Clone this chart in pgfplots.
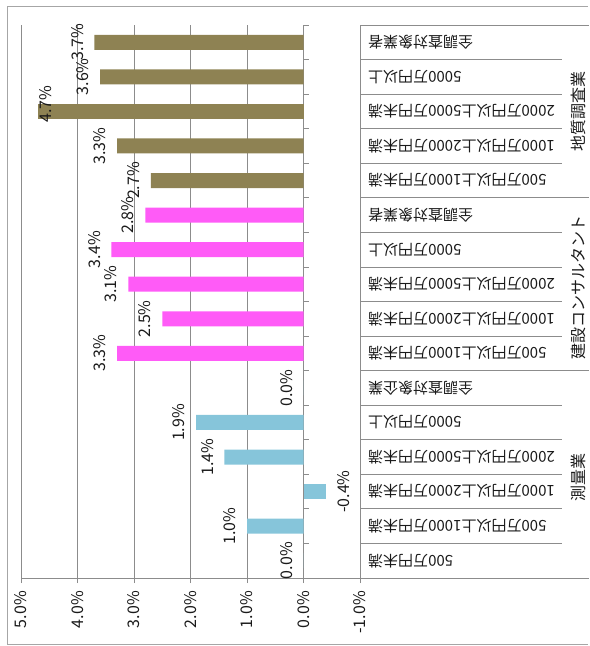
\documentclass[border=0pt]{standalone}
\usepackage{pgfplots}
\pgfplotsset{compat=1.18}
\usepackage{fontspec}
\setmainfont{Noto Sans CJK JP}
\definecolor{gold}{HTML}{8E8253}
\definecolor{pinkbar}{HTML}{FF5BF7}
\definecolor{bluebar}{HTML}{86C5DA}
\definecolor{gridgray}{HTML}{8C8C8C}
\definecolor{framegray}{HTML}{A6A6A6}
\definecolor{txt}{HTML}{1A1A1A}
\begin{document}
\begin{tikzpicture}
\begin{axis}[
  scale only axis, width=339bp, height=553bp,
  xbar, bar shift=0pt, bar width=15bp,
  x dir=reverse,
  xmin=-1, xmax=5, ymin=-0.5, ymax=15.5,
  clip=false,
  axis line style={draw=none},
  /pgf/number format/assume math mode=true,
  xtick={-1,0,1,2,3,4,5},
  xticklabel={\pgfmathprintnumber[fixed,fixed zerofill,precision=1]{\tick}\%},
  xticklabel style={rotate=90, anchor=east, font=\fontsize{16bp}{18bp}\selectfont, text=txt, inner xsep=8bp},
  tick align=outside, xtick pos=left, major tick length=5bp,
  xtick style={gridgray, line width=0.8pt},
  xmajorgrids, grid style={gridgray, line width=0.8pt},
  ytick={0,1,...,15},
  yticklabels={500万円未満, 500万円以上1000万円未満, 1000万円以上2000万円未満, 2000万円以上5000万円未満, 5000万円以上, 全調査対象企業,
    500万円以上1000万円未満, 1000万円以上2000万円未満, 2000万円以上5000万円未満, 5000万円以上, 全調査対象業者,
    500万円以上1000万円未満, 1000万円以上2000万円未満, 2000万円以上5000万円未満, 5000万円以上, 全調査対象業者},
  yticklabel pos=right,
  ytick style={draw=none},
  yticklabel style={rotate=180, anchor=east, font=\fontsize{15bp}{17bp}\selectfont, text=txt, inner xsep=3bp},
  point meta=x,
  nodes near coords={\pgfmathprintnumber[fixed,fixed zerofill,precision=1]{\pgfplotspointmeta}\%},
  every node near coord/.append style={rotate=90, anchor=south, font=\fontsize{16bp}{18bp}\selectfont, text=txt, inner ysep=11bp},
]
% bounding box and outer frame
\path (axis cs:5.372,16.223) rectangle (axis cs:-5.053,-2.467);
\draw[framegray, line width=0.8pt] (axis cs:-5.035,16.05) -- (axis cs:5.248,16.05) -- (axis cs:5.248,-2.41) -- (axis cs:-5.035,-2.41);
% value axis line and table lines
\draw[gridgray, line width=0.8pt] (axis cs:5,-0.5) -- (axis cs:-5.053,-0.5);
\draw[gridgray, line width=0.8pt] (axis cs:-1,15.5) -- (axis cs:-5.053,15.5);
\pgfplotsinvokeforeach{0.5,1.5,2.5,3.5,4.5,6.5,7.5,8.5,9.5,11.5,12.5,13.5,14.5}{
  \draw[gridgray, line width=0.8pt] (axis cs:-1,#1) -- (axis cs:-4.575,#1);
}
\pgfplotsinvokeforeach{5.5,10.5}{
  \draw[gridgray, line width=0.8pt] (axis cs:-1,#1) -- (axis cs:-5.053,#1);
}
% category axis at zero
\draw[gridgray, line width=0.8pt] (axis cs:0,-0.5) -- (axis cs:0,15.5);
\pgfplotsinvokeforeach{-0.5,0.5,1.5,2.5,3.5,4.5,5.5,6.5,7.5,8.5,9.5,10.5,11.5,12.5,13.5,14.5,15.5}{
  \draw[gridgray, line width=0.8pt] (axis cs:0,#1) -- (axis cs:-0.09,#1);
}
% group labels
\node[rotate=90, font=\fontsize{16bp}{18bp}\selectfont, text=txt] at (axis cs:-4.858,13) {地質調査業};
\node[rotate=90, font=\fontsize{16bp}{18bp}\selectfont, text=txt] at (axis cs:-4.858,7.9) {建設コンサルタント};
\node[rotate=90, font=\fontsize{16bp}{18bp}\selectfont, text=txt] at (axis cs:-4.858,2.4) {測量業};
% data
\addplot[fill=bluebar, draw=none] coordinates {(0.0,0) (1.0,1) (1.4,3) (1.9,4) (0.0,5)};
\addplot[fill=bluebar, draw=none, every node near coord/.append style={anchor=north}] coordinates {(-0.4,2)};
\addplot[fill=pinkbar, draw=none] coordinates {(3.3,6) (2.5,7) (3.1,8) (3.4,9) (2.8,10)};
\addplot[fill=gold, draw=none] coordinates {(2.7,11) (3.3,12) (3.6,14) (3.7,15)};
\addplot[fill=gold, draw=none, every node near coord/.append style={anchor=center, xshift=7bp, yshift=-8bp}] coordinates {(4.7,13)};
\end{axis}
\end{tikzpicture}
\end{document}
